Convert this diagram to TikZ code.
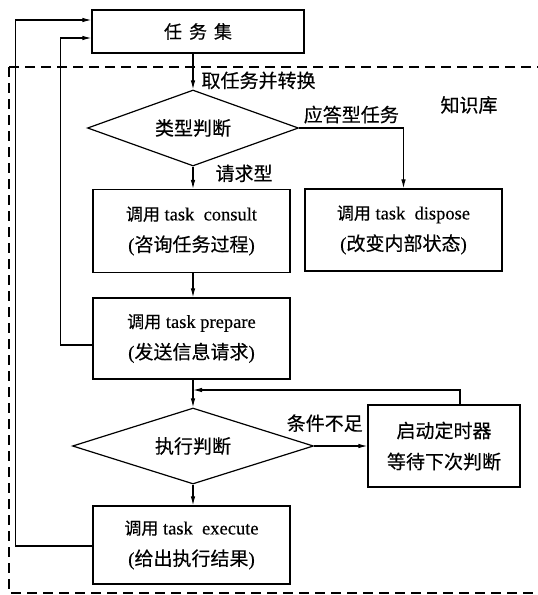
\documentclass[tikz,border=0pt]{standalone}
\usepackage{fontspec}
\setmainfont[FakeBold=0.3]{Liberation Serif}
\newfontfamily\cjk[FakeBold=0.3]{Noto Sans CJK SC}
\newcommand\latt[1]{{\fontsize{18.5}{31}\selectfont\rmfamily #1}}
\newcommand\cjs[1]{{\fontsize{17}{31}\selectfont\cjk #1}}
\usetikzlibrary{shapes.geometric,arrows.meta,calc}
\begin{document}
\begin{tikzpicture}[x=1pt,y=-1pt,
  every node/.style={font=\fontsize{19}{31}\selectfont\cjk},
  box/.style={draw,line width=1.2pt,inner sep=0pt,align=center},
  dia/.style={draw,shape=diamond,aspect=2.8,line width=1.2pt,inner sep=0pt},
  lab/.style={inner sep=0pt},
  arr/.style={line width=1.1pt,-{Latex[length=9pt,width=4.5pt]}}]
\useasboundingbox (0,0) rectangle (538,595);
\begin{scope}
\clip (0,0) rectangle (538,595);
\draw[line width=1.2pt,dash pattern=on 10pt off 6pt] (9,67) rectangle (560,593);
\end{scope}
\node[box,minimum width=212pt,minimum height=43pt,font=\fontsize{18}{22}\selectfont\cjk] (task) at (198,31.5) {任\hspace{7pt}务\hspace{7pt}集};
\node[dia,minimum width=211pt,minimum height=76pt] (d1) at (193,128) {类型判断};
\node[box,minimum width=197pt,minimum height=83pt] (consult) at (191.5,231) {\cjs{调用}\latt{ task\ \ consult}\\\rmfamily(\cjk 咨询任务过程\rmfamily)};
\node[box,minimum width=197pt,minimum height=82pt] (dispose) at (403.5,230) {\cjs{调用}\latt{ task\ \ dispose}\\\rmfamily(\cjk 改变内部状态\rmfamily)};
\node[box,minimum width=197pt,minimum height=81pt] (prepare) at (191.5,338.5) {\cjs{调用}\latt{ task prepare}\\\rmfamily(\cjk 发送信息请求\rmfamily)};
\node[dia,minimum width=241pt,minimum height=76pt] (d2) at (193,446) {执行判断};
\node[box,minimum width=152pt,minimum height=82pt] (timer) at (444,446) {启动定时器\\等待下次判断};
\node[box,minimum width=197pt,minimum height=78pt] (exec) at (191.5,545) {\cjs{调用}\latt{ task\ \ execute}\\\rmfamily(\cjk 给出执行结果\rmfamily)};
\node[lab] (kb) at (469,105) {知识库};
\coordinate (j) at (193,390);
\draw[arr] (task.south -| d1.north) -- node[lab,right=8pt,pos=0.75] {取任务并转换} (d1.north);
\draw[arr] (d1.east) -| node[lab,above=4pt,pos=0.25] {应答型任务} (dispose.north);
\draw[arr] (d1.south) -- node[lab,right=22pt,pos=0.3] {请求型} (consult.north -| d1.south);
\draw[arr] (consult.south -| d1.south) -- (prepare.north -| d1.south);
\draw[arr] (prepare.south -| d2.north) -- (d2.north);
\draw[arr] ($(timer.north)+(16,0)$) |- (j);
\draw[arr] (d2.east) -- node[lab,above=13.5pt,pos=0.2] {条件不足} (timer.west);
\draw[arr] (d2.south) -- (exec.north -| d2.south);
\draw[arr] ([yshift=-6.5]prepare.west) -- ++(-32,0) |- ([yshift=-6.5]task.west);
\draw[arr] ([yshift=-1]exec.west) -- ++(-77,0) |- ([yshift=11.5]task.west);
\end{tikzpicture}
\end{document}
